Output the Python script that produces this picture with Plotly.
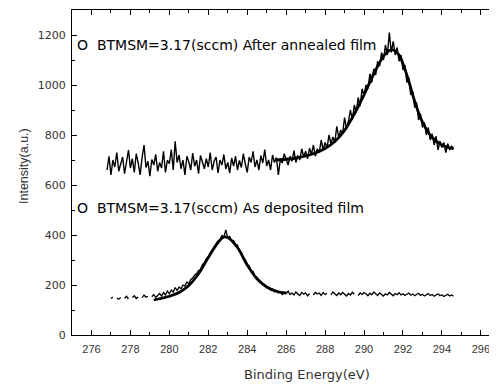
import numpy as np
import plotly.graph_objects as go

# ---- data ----
E_START = 276.8
E_STEP = 0.1

annealed_raw = [
    660, 715, 640, 700, 672, 730, 655, 690, 712, 645,
    698, 740, 668, 705, 650, 725, 688, 640, 710, 760,
    670, 695, 635, 702, 680, 722, 655, 690, 668, 735,
    650, 700, 685, 742, 660, 775, 690, 720, 665, 700,
    640, 715, 692, 660, 728, 675, 700, 645, 718, 690,
    665, 705, 672, 730, 660, 695, 712, 648, 700, 680,
    722, 664, 690, 648, 708, 676, 715, 660, 698, 670,
    725, 685, 650, 712, 690, 735, 672, 700, 660, 718,
    688, 742, 676, 700, 660, 720, 690, 710, 640, 702,
    688, 725, 700, 680, 715, 695, 738, 690, 718, 700,
    745, 712, 735, 705, 748, 722, 760, 715, 745, 730,
    780, 740, 770, 748, 800, 765, 792, 770, 835, 790,
    820, 805, 870, 825, 855, 900, 860, 920, 890, 950,
    915, 985, 960, 1000, 985, 1045, 1010, 1065, 1040, 1095,
    1075, 1130, 1100, 1160, 1120, 1210, 1130, 1175, 1120, 1150,
    1095, 1120, 1060, 1080, 1010, 1030, 960, 975, 910, 930,
    860, 885, 830, 850, 800, 830, 780, 805, 760, 795,
    740, 775, 750, 770, 730, 765, 740, 755, 745,
]

deposited_raw = [
    150, None, 146, 152, None, 148, 143, 150, None, 147,
    155, 144, None, 150, 157, 146, 152, None, 149, 160,
    151, 155, None, 153, 162, 150, 158, 166, 156, 170,
    160, 176, 165, 180, 172, 190, 178, 192, 185, 200,
    196, 212, 205, 222, 228, 240, 246, 258, 262, 282,
    290, 305, 312, 330, 338, 352, 360, 376, 382, 398,
    392, 420, 388, 395, 375, 378, 355, 360, 335, 330,
    305, 302, 282, 276, 258, 255, 235, 232, 218, 214,
    202, 200, 192, 190, 180, 184, 172, 176, 168, 172,
    162, 170, 165, 175, 162, 168, 160, 172, 164, 158,
    170, 163, 168, 156, 166, None, 160, 171, 164, 168,
    158, 170, 162, 167, None, 160, 172, 165, 158, 168,
    161, 170, 164, 156, 166, 160, 171, 163, None, 158,
    168, 162, 170, 165, 157, 167, 161, 172, 164, 158,
    168, 162, 156, 165, 160, 170, 163, 157, 166, 161,
    169, 160, 165, 158, 163, 168, 159, 164, 157, 162,
    167, 158, 163, 156, 161, 166, 158, 162, 155, 160,
    165, 157, 161, 154, 159, 163, 156, 160, 155,
]

annealed_fit_x = [285.5, 286.0, 286.5, 287.0, 287.5, 288.0, 288.5, 289.0, 289.5, 290.0,
                  290.5, 291.0, 291.3, 291.5, 291.8, 292.0, 292.3, 292.6, 293.0, 293.5,
                  294.0, 294.6]
annealed_fit_y = [700, 703, 708, 716, 728, 746, 774, 818, 884, 960,
                  1045, 1115, 1138, 1140, 1120, 1085, 1015, 935, 852, 790,
                  760, 745]

deposited_fit_x = [279.2, 279.5, 280.0, 280.5, 281.0, 281.5, 282.0, 282.5, 282.8, 283.0,
                   283.5, 284.0, 284.5, 285.0, 285.5, 286.0]
deposited_fit_y = [140, 145, 155, 170, 198, 245, 310, 370, 392, 390,
                   350, 280, 225, 192, 175, 168]

x_tick_vals = [276, 278, 280, 282, 284, 286, 288, 290, 292, 294, 296]
y_tick_vals = [0, 200, 400, 600, 800, 1000, 1200]

label_top = "O  BTMSM=3.17(sccm) After annealed film"
label_bottom = "O  BTMSM=3.17(sccm) As deposited film"
x_title = "Binding Energy(eV)"
y_title = "Intensity(a.u.)"

# ---- figure ----
e_ann = np.round(E_START + E_STEP * np.arange(len(annealed_raw)), 2)
e_dep = np.round(E_START + E_STEP * np.arange(len(deposited_raw)), 2)

fig = go.Figure()
fig.add_trace(go.Scatter(x=e_ann, y=annealed_raw, mode="lines",
                         line=dict(color="black", width=1.4), connectgaps=False))
fig.add_trace(go.Scatter(x=e_dep, y=deposited_raw, mode="lines",
                         line=dict(color="black", width=1.3), connectgaps=False))
fig.add_trace(go.Scatter(x=annealed_fit_x, y=annealed_fit_y, mode="lines",
                         line=dict(color="black", width=2.8, shape="spline")))
fig.add_trace(go.Scatter(x=deposited_fit_x, y=deposited_fit_y, mode="lines",
                         line=dict(color="black", width=2.8, shape="spline")))

axis_common = dict(
    showline=True, linecolor="black", linewidth=1.3, mirror="allticks",
    ticks="inside", ticklen=5, tickwidth=1.2, tickcolor="black",
    showgrid=False, zeroline=False,
)

fig.update_xaxes(range=[275.0, 296.83], tickvals=x_tick_vals,
                 minor=dict(dtick=1, ticks="inside", ticklen=3, tickcolor="black", tickwidth=1),
                 tickfont=dict(family="Liberation Sans, Arial", size=11, color="#333"),
                 ticklabelstandoff=4,
                 **axis_common)
fig.update_yaxes(range=[0, 1300], tickvals=y_tick_vals,
                 minor=dict(dtick=100, ticks="inside", ticklen=3, tickcolor="black", tickwidth=1),
                 tickfont=dict(family="DejaVu Sans", size=11, color="#333"),
                 ticklabelstandoff=3,
                 **axis_common)

ann_font = dict(family="DejaVu Sans", size=14, color="black")
fig.add_annotation(text=label_top, xref="paper", yref="paper", x=0.008, y=0.892,
                   xanchor="left", yanchor="middle", showarrow=False, font=ann_font)
fig.add_annotation(text=label_bottom, xref="paper", yref="paper", x=0.006, y=0.391,
                   xanchor="left", yanchor="middle", showarrow=False, font=ann_font)
fig.add_annotation(text=x_title, xref="paper", yref="paper", x=0.553, y=-0.123,
                   xanchor="center", yanchor="middle", showarrow=False,
                   font=dict(family="DejaVu Sans", size=13, color="#333"))
fig.add_annotation(text=y_title, xref="paper", yref="paper", x=-0.113, y=0.52,
                   xanchor="center", yanchor="middle", showarrow=False, textangle=-90,
                   font=dict(family="Liberation Sans, Arial", size=12.5, color="#333"))

# page body has an 8px default margin: figure is offset by 8px in the window
fig.update_layout(
    width=489, height=380,
    margin=dict(l=64, r=0, t=2, b=53),
    paper_bgcolor="white", plot_bgcolor="white",
    showlegend=False,
)

fig.write_html("out.html")
